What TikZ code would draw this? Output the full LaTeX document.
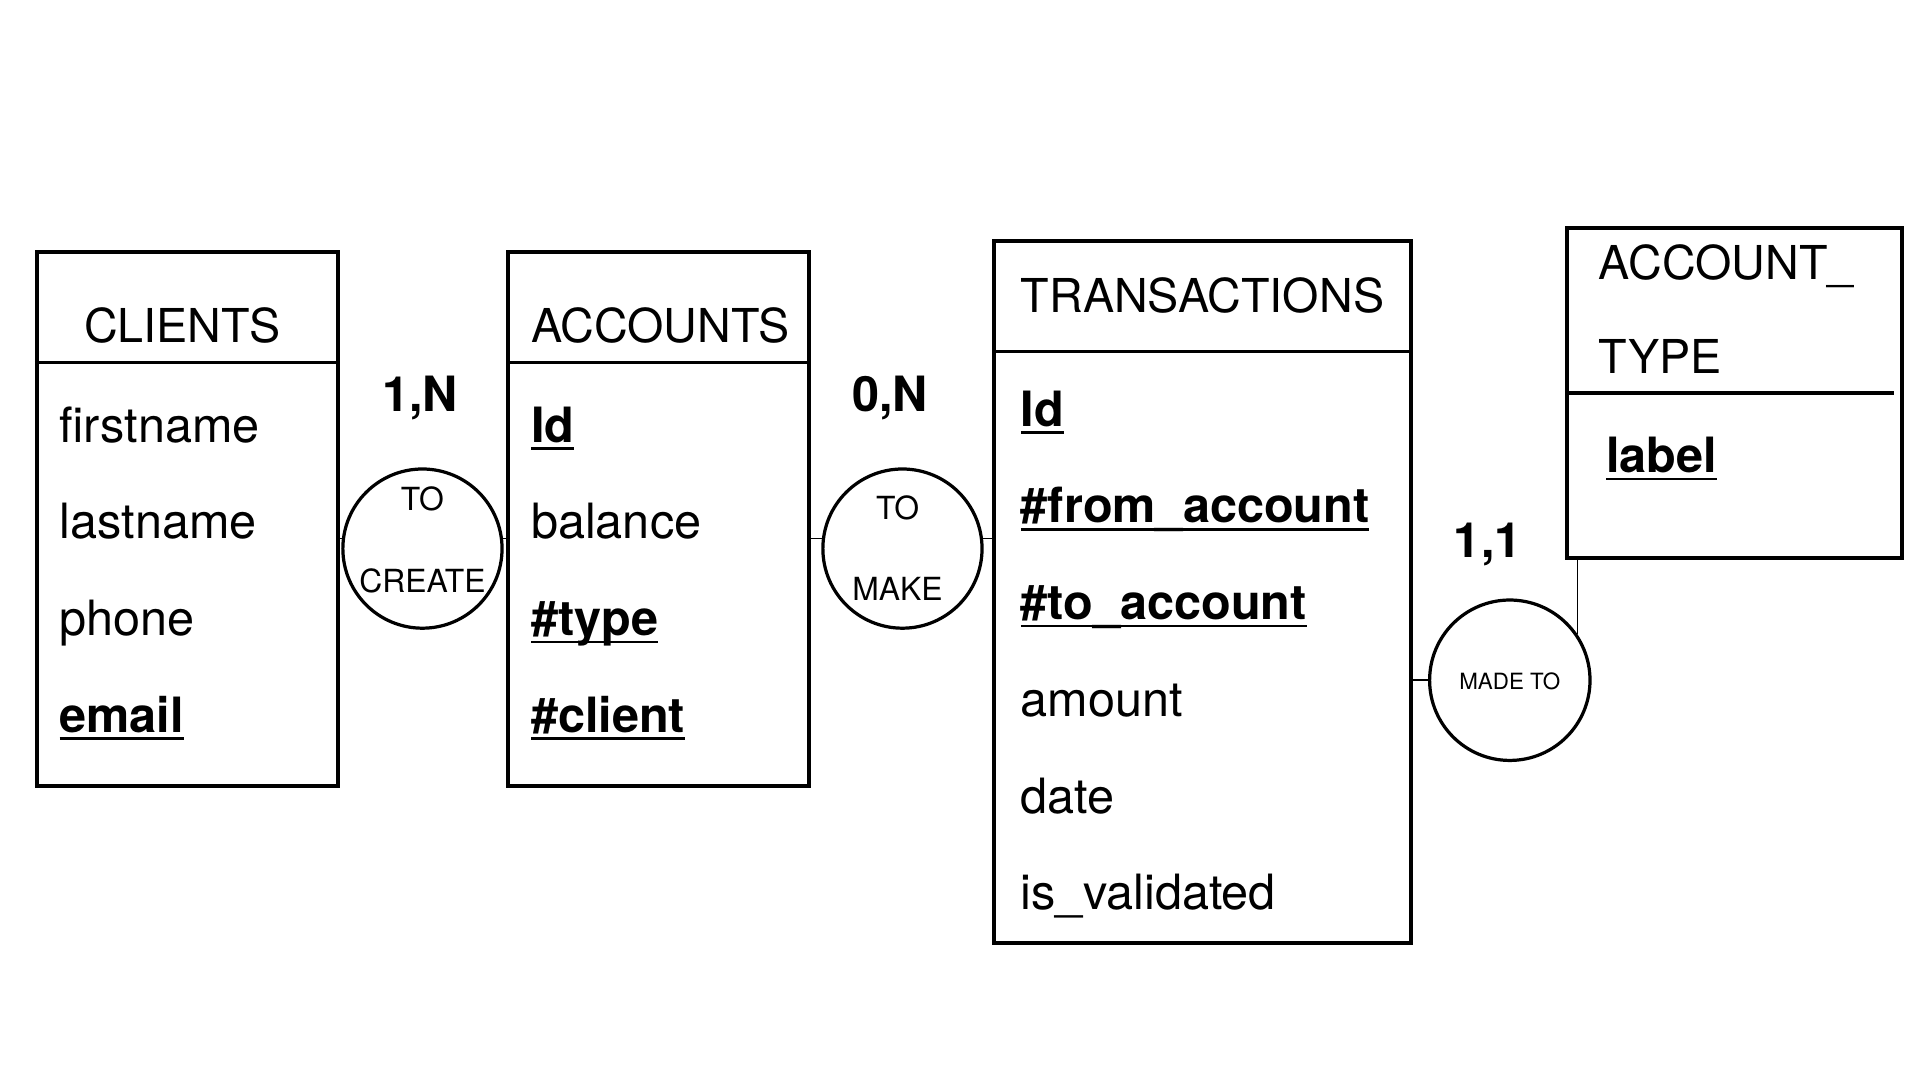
\documentclass[tikz,border=0pt]{standalone}
\usepackage{fontspec}
\setmainfont{TeX Gyre Heros}
\usepackage{tikz}
\usetikzlibrary{shapes,positioning}

\newcommand{\keyfield}[1]{\setbox0\hbox{\bfseries #1}\rlap{\rule[-0.16em]{\wd0}{0.055em}}\box0}

\tikzset{
  entity/.style={draw, line width=0.9pt, inner sep=0pt},
  relation/.style={draw, circle, line width=0.75pt, inner sep=0pt, minimum size=1.30cm},
  attr/.style={anchor=base west, inner sep=0pt, font=\fontsize{11.3pt}{13pt}\selectfont},
  title/.style={attr, font=\fontsize{10.85pt}{13pt}\selectfont},
  card/.style={anchor=base, inner sep=0pt, font=\fontsize{11.3pt}{13pt}\selectfont\bfseries},
  reltext/.style={anchor=base, inner sep=0pt, font=\fontsize{7.4pt}{9pt}\selectfont},
  link/.style={line width=0.35pt}
}

\begin{document}
\begin{tikzpicture}

  \useasboundingbox (0,0) rectangle (15.68,-8.82);

  \node[entity, minimum width=2.46cm, minimum height=4.36cm] (clients) at (1.53,-4.24) {};
  \node[entity, minimum width=2.46cm, minimum height=4.36cm] (accounts) at (5.38,-4.24) {};
  \node[entity, minimum width=3.40cm, minimum height=5.73cm] (transactions) at (9.82,-4.835) {};
  \node[entity, minimum width=2.73cm, minimum height=2.70cm] (accounttype) at (14.165,-3.21) {};

  \draw[line width=0.9pt] (clients.west |- 0,-2.96) -- (clients.east |- 0,-2.96);
  \draw[line width=0.9pt] (accounts.west |- 0,-2.96) -- (accounts.east |- 0,-2.96);
  \draw[line width=0.9pt] (transactions.west |- 0,-2.87) -- (transactions.east |- 0,-2.87);
  \draw[line width=0.9pt] (accounttype.west |- 0,-3.21) -- (15.47,-3.21);

  \node[title] (clientstitle) at (0.68,-2.80) {CLIENTS};
  \node[title] (accountstitle) at (4.33,-2.80) {ACCOUNTS};
  \node[title] (transtitle) at (8.33,-2.55) {TRANSACTIONS};
  \node[title] (typetitle) at (13.05,-2.28) {ACCOUNT\_};
  \node[title] (typetitlebis) at (13.05,-3.05) {TYPE};

  \node[attr] (firstname) at (0.48,-3.61) {firstname};
  \node[attr] (lastname) at (0.48,-4.40) {lastname};
  \node[attr] (phone) at (0.48,-5.19) {phone};
  \node[attr] (email) at (0.48,-5.98) {\keyfield{email}};

  \node[attr] (accid) at (4.33,-3.61) {\keyfield{Id}};
  \node[attr] (balance) at (4.33,-4.40) {balance};
  \node[attr] (acctype) at (4.33,-5.19) {\keyfield{\#type}};
  \node[attr] (accclient) at (4.33,-5.98) {\keyfield{\#client}};

  \node[attr] (transid) at (8.33,-3.48) {\keyfield{Id}};
  \node[attr] (fromacc) at (8.33,-4.27) {\keyfield{\#from\_account}};
  \node[attr] (toacc) at (8.33,-5.06) {\keyfield{\#to\_account}};
  \node[attr] (amount) at (8.33,-5.85) {amount};
  \node[attr] (date) at (8.33,-6.64) {date};
  \node[attr] (validated) at (8.33,-7.43) {is\_validated};

  \node[attr] (typelabel) at (13.11,-3.86) {\keyfield{label}};

  \node[relation] (create) at (3.45,-4.48) {};
  \node[reltext] (createto) at (3.45,-4.17) {TO};
  \node[reltext] (createword) at (3.45,-4.836) {CREATE};

  \node[relation] (make) at (7.37,-4.48) {};
  \node[reltext] (maketo) at (7.33,-4.24) {TO};
  \node[reltext] (makeword) at (7.33,-4.90) {MAKE};

  \node[relation, minimum size=1.31cm] (madeto) at (12.33,-5.555) {};
  \node[reltext, font=\fontsize{5.2pt}{6pt}\selectfont] (madetoword) at (12.33,-5.63) {MADE TO};

  \node[card] (cardcreate) at (3.43,-3.36) {1,N};
  \node[card] (cardmake) at (7.27,-3.36) {0,N};
  \node[card] (cardmadeto) at (12.15,-4.55) {1,1};

  \draw[link] (create.173) -- (create.173 -| clients.east);
  \draw[link] (create.7) -- (create.7 -| accounts.west);
  \draw[link] (make.173) -- (make.173 -| accounts.east);
  \draw[link] (make.7) -- (make.7 -| transactions.west);
  \draw[link] (madeto.west) -- (madeto.west -| transactions.east);
  \draw[link] (madeto.34) -- (madeto.34 |- accounttype.south);

\end{tikzpicture}
\end{document}
